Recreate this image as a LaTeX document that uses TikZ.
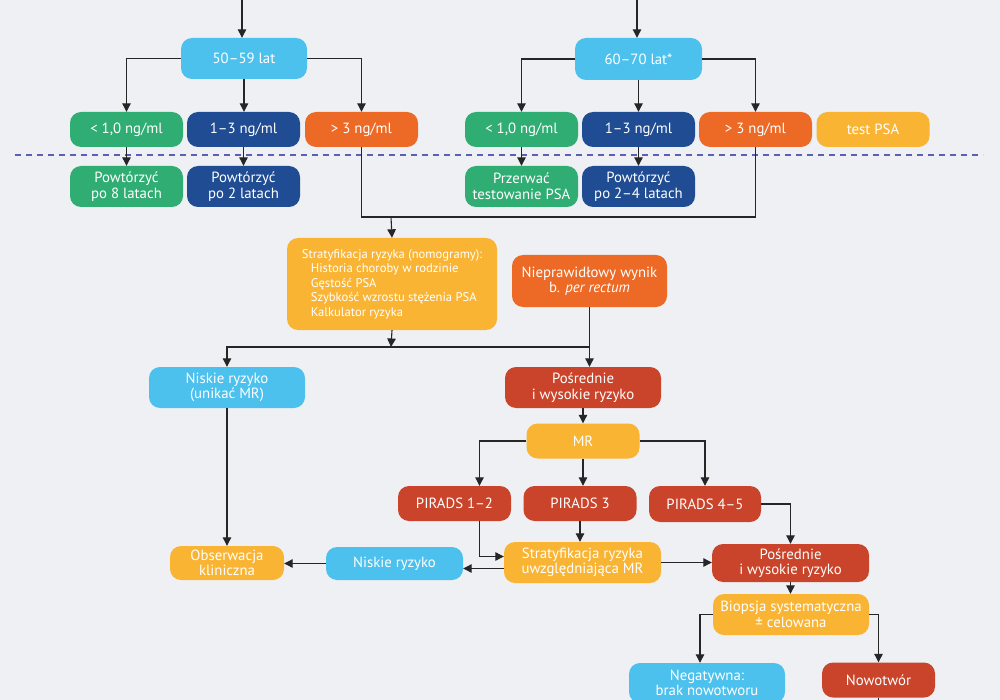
\documentclass[tikz,border=0pt]{standalone}
\usepackage{fontspec}
\setmainfont{PT Sans}
\usetikzlibrary{arrows.meta,positioning,calc}

\definecolor{bgc}{HTML}{EEF0F4}
\definecolor{skyc}{HTML}{4CC1EE}
\definecolor{leafc}{HTML}{2FAD73}
\definecolor{navyc}{HTML}{1F4C92}
\definecolor{flamec}{HTML}{EC6A26}
\definecolor{amberc}{HTML}{FAB434}
\definecolor{brickc}{HTML}{C9442A}
\definecolor{dashc}{HTML}{5C60B4}
\definecolor{linec}{HTML}{262626}

\begin{document}
\begin{tikzpicture}[x=1pt, y=-1pt,
  box/.style={rectangle, rounded corners=11pt, text=white, align=center,
    inner sep=1.5pt, font=\fontsize{14.8}{15.5}\selectfont},
  sky/.style={box, fill=skyc},
  leaf/.style={box, fill=leafc},
  navy/.style={box, fill=navyc},
  flame/.style={box, fill=flamec},
  amber/.style={box, fill=amberc},
  brick/.style={box, fill=brickc},
  small/.style={minimum width=113pt, minimum height=35pt},
  wide/.style={minimum width=156pt, minimum height=41pt},
  ar/.style={-{Triangle[length=8.5pt,width=8.5pt]}, line width=1.1pt, draw=linec},
  ln/.style={line width=1.1pt, draw=linec},
  sep/.style={draw=dashc, line width=1.2pt, dash pattern=on 6pt off 5pt},
]
\useasboundingbox (0,0) rectangle (1000,700);
\fill[bgc] (0,0) rectangle (1000,700);

%--- Age groups ---
\coordinate (in1) at (242,-5);
\coordinate (in2) at (637,-5);
\node[sky, minimum width=126pt, minimum height=41pt] (age1) at (244,58.5) {50--59 lat};
\node[sky, minimum width=127pt, minimum height=42pt] (age2) at (638.5,59) {60--70 lat*};
\draw[ar] (in1) -- (in1 |- age1.north);
\draw[ar] (in2) -- (in2 |- age2.north);

%--- PSA results ---
\node[leaf,  small] (lo1)  at (126.5,129.5) {< 1,0 ng/ml};
\node[navy,  small] (mid1) at (243.5,129.5) {1--3 ng/ml};
\node[flame, small] (hi1)  at (361.5,129.5) {> 3 ng/ml};
\node[leaf,  small] (lo2)  at (521.5,129.5) {< 1,0 ng/ml};
\node[navy,  small] (mid2) at (638.5,129.5) {1--3 ng/ml};
\node[flame, small] (hi2)  at (755.5,129.5) {> 3 ng/ml};
\node[amber, small] (psa)  at (873,129.5)   {test PSA};

\draw[ar] (age1.west) -| (lo1.north);
\draw[ar] (age1.south) -- (age1.south |- mid1.north);
\draw[ar] (age1.east) -| (hi1.north);
\draw[ar] (age2.west) -| (lo2.north);
\draw[ar] (age2.south) -- (age2.south |- mid2.north);
\draw[ar] (age2.east) -| (hi2.north);

\draw[sep] (15,155) -- (983,155);

%--- Repeat intervals ---
\node[leaf, small, minimum height=41pt] (rep8)  at (126.5,186.5) {Powtórzyć\\po 8 latach};
\node[navy, small, minimum height=41pt] (rep2)  at (243.5,186.5) {Powtórzyć\\po 2 latach};
\node[leaf, small, minimum height=41pt] (stop)  at (521.5,186.5) {Przerwać\\testowanie PSA};
\node[navy, small, minimum height=41pt] (rep24) at (638.5,186.5) {Powtórzyć\\po 2--4 latach};

\draw[ar] (lo1) -- (rep8);
\draw[ar] (mid1) -- (rep2);
\draw[ar] (lo2) -- (stop);
\draw[ar] (mid2) -- (rep24);

%--- Risk stratification ---
\node[amber, minimum width=210pt, minimum height=92pt, align=left,
  font=\fontsize{12.6}{14.5}\selectfont] (strat) at (392,284)
  {Stratyfikacja ryzyka (nomogramy):\\
   \hspace*{9pt}Historia choroby w rodzinie\\
   \hspace*{9pt}Gęstość PSA\\
   \hspace*{9pt}Szybkość wzrostu stężenia PSA\\
   \hspace*{9pt}Kalkulator ryzyka};
\node[flame, minimum width=155pt, minimum height=52pt] (dre) at (589.5,281)
  {Nieprawidłowy wynik\\b. \textit{per rectum}};

\coordinate (join)  at (391,217);
\coordinate (split) at (391,347);
\draw[ln] (hi1.south) |- (join);
\draw[ln] (hi2.south) |- (join);
\draw[ar] (join) -- (strat.north);

\node[sky,   wide] (lowmr) at (227,387.5) {Niskie ryzyko\\(unikać MR)};
\node[brick, wide] (inthi) at (583,387.5) {Pośrednie\\i wysokie ryzyko};

\draw[ar] (strat.south) -- (split);
\draw[ln] (dre.south |- split) -- (split);
\draw[ar] (split) -| (lowmr.north);
\draw[ar] (dre.south) -- (dre.south |- inthi.north);

%--- MR branch ---
\node[amber, small] (mr)   at (583,441)     {MR};
\node[brick, small] (pi12) at (454.5,503.5) {PIRADS 1--2};
\node[brick, small] (pi3)  at (580,503.5)   {PIRADS 3};
\node[brick, small, minimum width=112pt, minimum height=36pt] (pi45) at (705,504) {PIRADS 4--5};

\draw[ar] (inthi.south) -- (inthi.south |- mr.north);
\draw[ar] (mr.west) -| ($(pi12.north)+(25,0)$);
\draw[ar] (mr.south) -- (mr.south |- pi3.north);
\draw[ar] (mr.east) -| (pi45.north);

\node[amber, wide, minimum width=157pt] (stratmr) at (582.5,562.5)
  {Stratyfikacja ryzyka\\uwzględniająca MR};
\node[sky, minimum width=137pt, minimum height=33pt] (low2) at (394.5,563.5) {Niskie ryzyko};
\node[amber, minimum width=114pt, minimum height=34pt] (obs) at (227,563) {Obserwacja\\kliniczna};
\node[brick, wide, minimum width=157pt, minimum height=38pt] (inthi2) at (790.5,563)
  {Pośrednie\\i wysokie ryzyko};

\draw[ar] ($(pi12.south)+(25,0)$) |- ([yshift=6pt]stratmr.west);
\draw[ar] (pi3.south) -- (pi3.south |- stratmr.north);
\draw[ar] ([yshift=-6pt]stratmr.west) -- ([yshift=-6pt]stratmr.west -| low2.east);
\draw[ar] (low2.west) -- (low2.west -| obs.east);
\draw[ar] (lowmr.south) -- (lowmr.south |- obs.north);
\draw[ar] (stratmr.east) -- (stratmr.east -| inthi2.west);
\draw[ar] (pi45.east) -| (inthi2.north);

%--- Biopsy ---
\node[amber, wide] (biop) at (791,614.5) {Biopsja systematyczna\\± celowana};
\node[sky, wide, minimum height=40pt] (neg) at (707,683) {Negatywna:\\brak nowotworu};
\node[brick, small] (canc) at (878.5,680) {Nowotwór};
\coordinate (out) at (883,720);

\draw[ar] (inthi2.south) -- (inthi2.south |- biop.north);
\draw[ar] (biop.west) -| ($(neg.north)+(-7,0)$);
\draw[ar] (biop.east) -| (canc.north);
\draw[ln] (canc.south) -- (canc.south |- out);

\end{tikzpicture}
\end{document}
